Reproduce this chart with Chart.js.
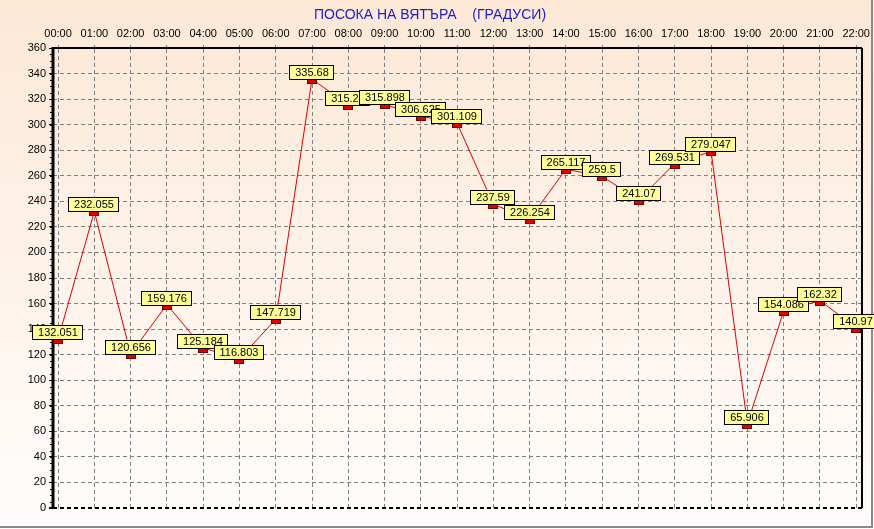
<!DOCTYPE html>
<html>
<head>
<meta charset="utf-8">
<script src="https://cdn.jsdelivr.net/npm/chart.js@4.4.1/dist/chart.umd.min.js"></script>
<style>
  html, body { margin: 0; padding: 0; background: #fff; }
  #wrap { width: 874px; height: 529px; }
</style>
</head>
<body>
<div id="wrap"><canvas id="windChart" width="874" height="529"></canvas></div>
<script>
const title = 'ПОСОКА НА ВЯТЪРА    (ГРАДУСИ)';
const hours = ['00:00', '01:00', '02:00', '03:00', '04:00', '05:00', '06:00', '07:00',
  '08:00', '09:00', '10:00', '11:00', '12:00', '13:00', '14:00', '15:00', '16:00',
  '17:00', '18:00', '19:00', '20:00', '21:00', '22:00'];
const direction = [132.051, 232.055, 120.656, 159.176, 125.184, 116.803, 147.719, 335.68,
  315.23, 315.898, 306.625, 301.109, 237.59, 226.254, 265.117, 259.5, 241.07,
  269.531, 279.047, 65.906, 154.086, 162.32, 140.97];
const yTicks = [0, 20, 40, 60, 80, 100, 120, 140, 160, 180, 200, 220, 240, 260, 280, 300, 320, 340, 360];

const FONT = '"Liberation Sans", Arial, sans-serif';

const backdrop = {
  id: 'backdrop',
  beforeDraw(chart) {
    const { ctx, width, height } = chart;
    const g = ctx.createLinearGradient(0, 0, 0, height);
    g.addColorStop(0, '#fde8d6');
    g.addColorStop(1, '#fffdfc');
    ctx.save();
    ctx.fillStyle = g;
    ctx.fillRect(0, 0, width, height);
    ctx.strokeStyle = '#8a8a8a';
    ctx.lineWidth = 2;
    ctx.beginPath();
    ctx.moveTo(0, height - 2);
    ctx.lineTo(width - 2, height - 2);
    ctx.lineTo(width - 2, 0);
    ctx.stroke();
    ctx.fillStyle = '#1c1cd0';
    ctx.font = '14px ' + FONT;
    ctx.textAlign = 'center';
    ctx.textBaseline = 'middle';
    ctx.fillText(title, 430, 15);
    ctx.restore();
  },
  afterDraw(chart) {
    const { ctx, chartArea } = chart;
    ctx.save();
    // right border and thick left axis
    ctx.strokeStyle = '#000';
    ctx.lineWidth = 2;
    ctx.beginPath();
    ctx.moveTo(chartArea.right, chartArea.top);
    ctx.lineTo(chartArea.right, chartArea.bottom);
    ctx.stroke();
    ctx.lineWidth = 3;
    ctx.beginPath();
    ctx.moveTo(chartArea.left, chartArea.top - 1);
    ctx.lineTo(chartArea.left, chartArea.bottom + 1);
    ctx.stroke();
    // minor ticks on y axis
    const ys = chart.scales.y;
    ctx.lineWidth = 1;
    for (let v = 0; v <= 360; v += 5) {
      const py = Math.round(ys.getPixelForValue(v)) + 0.5;
      ctx.beginPath();
      ctx.moveTo(chartArea.left - 3, py);
      ctx.lineTo(chartArea.left, py);
      ctx.stroke();
    }
    // markers and value boxes
    const meta = chart.getDatasetMeta(0);
    ctx.font = '11px ' + FONT;
    ctx.textAlign = 'center';
    ctx.textBaseline = 'middle';
    meta.data.forEach((pt, i) => {
      const x = Math.round(pt.x);
      const y = Math.round(pt.y);
      ctx.fillStyle = '#e00000';
      ctx.fillRect(x - 4, y, 8, 4);
      ctx.strokeStyle = '#700000';
      ctx.lineWidth = 1;
      ctx.strokeRect(x - 4.5, y - 0.5, 9, 5);
      const txt = String(direction[i]);
      const w = Math.round(ctx.measureText(txt).width) + 11;
      const bx = x - Math.round(w / 2);
      ctx.fillStyle = '#ffff99';
      ctx.fillRect(bx, y - 14, w, 14);
      ctx.strokeStyle = '#000';
      ctx.strokeRect(bx + 0.5, y - 13.5, w - 1, 14);
      ctx.fillStyle = '#000';
      ctx.fillText(txt, x, y - 6.5);
    });
    ctx.restore();
  }
};

new Chart(document.getElementById('windChart'), {
  type: 'line',
  data: {
    datasets: [{
      data: direction.map((v, i) => ({ x: i, y: v })),
      borderColor: '#e00000',
      borderWidth: 1,
      pointRadius: 0,
      tension: 0
    }]
  },
  options: {
    responsive: false,
    animation: false,
    layout: { padding: { left: 0, right: 8, top: 0, bottom: 21 } },
    plugins: { legend: { display: false }, tooltip: { enabled: false } },
    scales: {
      x: {
        type: 'linear',
        position: 'top',
        min: -0.14,
        max: 22.16,
        afterBuildTicks: s => { s.ticks = hours.map((h, i) => ({ value: i })); },
        afterFit: s => { s.height = 48; },
        ticks: {
          callback: v => hours[v],
          color: '#000',
          font: { family: FONT, size: 11 },
          maxRotation: 0,
          autoSkip: false,
          padding: 4
        },
        grid: {
          color: '#808080',
          tickLength: 3,
          tickColor: '#808080',
          tickBorderDash: [],
          lineWidth: 1
        },
        border: { color: '#000', width: 2, dash: [4, 3] }
      },
      y: {
        min: 0,
        max: 360,
        afterBuildTicks: s => { s.ticks = yTicks.map(v => ({ value: v })); },
        afterFit: s => { s.width = 53; },
        ticks: {
          color: '#000',
          font: { family: FONT, size: 11 },
          padding: 3
        },
        grid: {
          color: c => (c.tick && c.tick.value === 0 ? '#000' : '#808080'),
          lineWidth: c => (c.tick && c.tick.value === 0 ? 2 : 1),
          tickLength: 4,
          tickColor: '#000',
          tickBorderDash: []
        },
        border: { display: false, dash: [4, 3] }
      }
    }
  },
  plugins: [backdrop]
});
</script>
</body>
</html>
